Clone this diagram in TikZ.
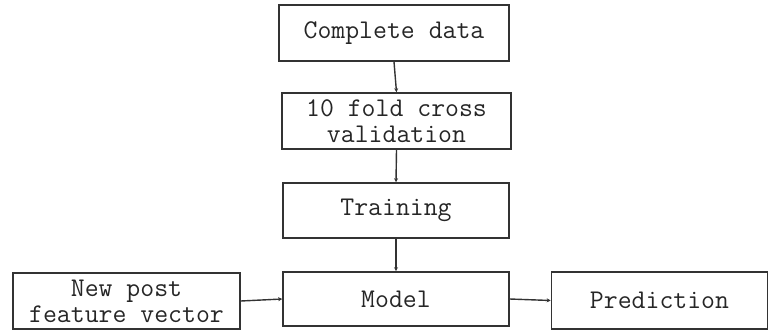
\documentclass[tikz,border=0pt]{standalone}
\usetikzlibrary{arrows.meta}
\begin{document}
\begin{tikzpicture}[x=1pt,y=-1pt,
  stepbox/.style={draw=black!80, line width=1.6pt, inner sep=0pt,
    font=\ttfamily\fontsize{27}{26}\selectfont, align=center, text=black!85},
  conn/.style={draw=black!80, line width=1.4pt, -{Stealth[length=4pt,width=4pt]}}]
\useasboundingbox (0,0) rectangle (769,333);
\node[stepbox, minimum width=230pt, minimum height=56pt] (data) at (394,33) {Complete data};
\node[stepbox, minimum width=229pt, minimum height=56pt] (cv) at (396.5,121) {10 fold cross\\validation};
\node[stepbox, minimum width=226pt, minimum height=55pt] (train) at (396,210.5) {Training};
\node[stepbox, minimum width=226pt, minimum height=54pt] (model) at (396,299) {Model};
\node[stepbox, minimum width=227pt, minimum height=56pt] (post) at (126.5,301) {New post\\feature vector};
\node[stepbox, minimum width=216pt, minimum height=57pt] (pred) at (659.5,300.5) {Prediction};
\draw[conn] (data.south) -- (cv.north);
\draw[conn] (cv.south) -- (train.north);
\draw[conn] (train.south) -- (model.north);
\draw[conn] (post.east) -- (model.west);
\draw[conn] (model.east) -- (pred.west);
\end{tikzpicture}
\end{document}
